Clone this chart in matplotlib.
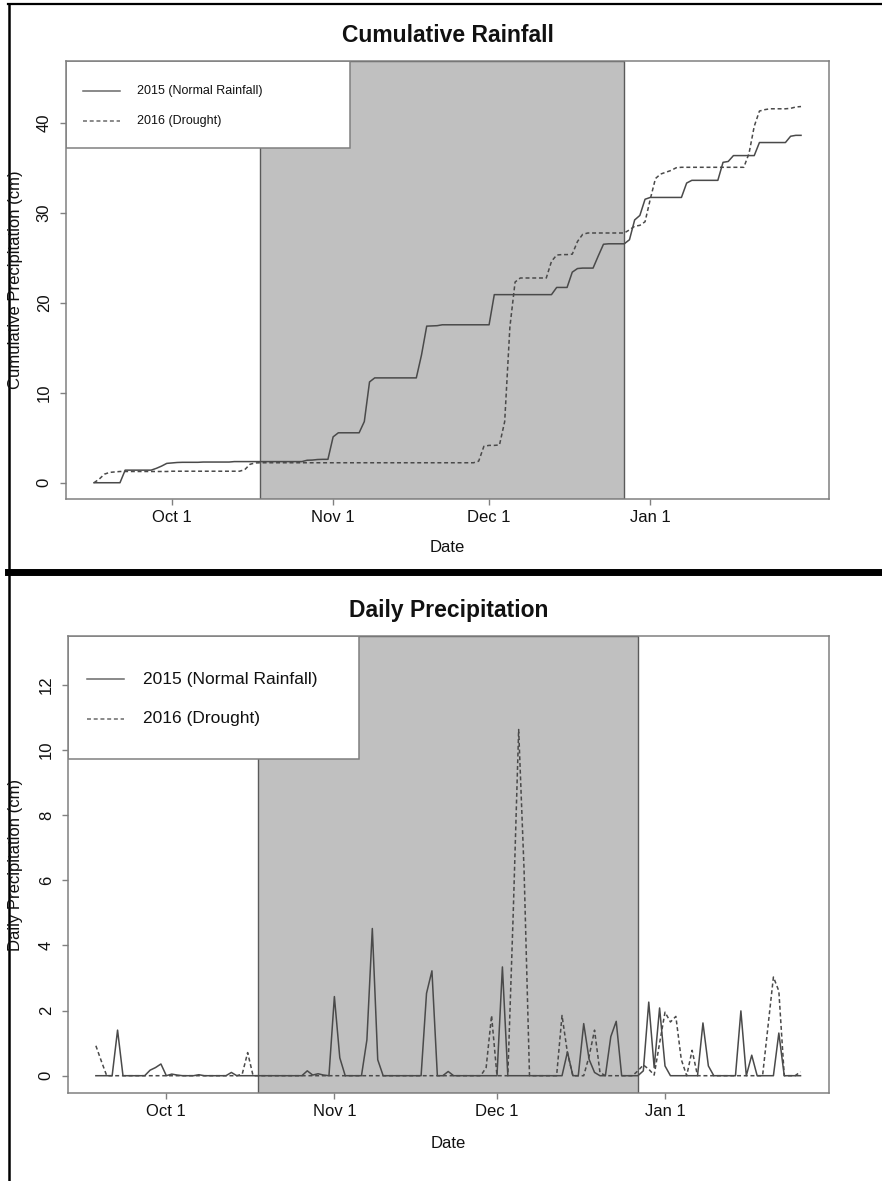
import numpy as np
import pandas as pd
import matplotlib
matplotlib.use("Agg")
import matplotlib.pyplot as plt
import matplotlib.dates as mdates
from matplotlib.patches import Rectangle
from matplotlib.lines import Line2D

plt.rcParams['font.family'] = ['Liberation Sans', 'DejaVu Sans']

# ---------------- data ----------------
series_labels = ["2015 (Normal Rainfall)", "2016 (Drought)"]
month_tick_dates = ["2015-10-01", "2015-11-01", "2015-12-01", "2016-01-01"]
month_tick_labels = ["Oct 1", "Nov 1", "Dec 1", "Jan 1"]
shade_start, shade_end = "2015-10-18", "2015-12-27"

# cumulative rainfall (cm), daily from Sep 16 to Jan 30
cum_start, cum_end = "2015-09-16", "2016-01-30"
cum_2015_sep = [0, 0, 0, 0, 0, 0, 1.4, 1.4, 1.4, 1.4, 1.4, 1.4, 1.6, 1.85, 2.15]
cum_2015_oct = [2.2, 2.25, 2.27, 2.27, 2.27, 2.27, 2.3, 2.3, 2.3, 2.3, 2.3, 2.3,
                2.35, 2.35, 2.35, 2.35, 2.35, 2.35, 2.35, 2.35, 2.35, 2.35, 2.35,
                2.35, 2.35, 2.35, 2.5, 2.52, 2.58, 2.6, 2.6]
cum_2015_nov = [5.1, 5.55, 5.55, 5.55, 5.55, 5.55, 6.8, 11.2, 11.65, 11.65, 11.65,
                11.65, 11.65, 11.65, 11.65, 11.65, 11.65, 14.2, 17.4, 17.42, 17.45,
                17.55, 17.55, 17.55, 17.55, 17.55, 17.55, 17.55, 17.55, 17.55]
cum_2015_dec = [17.55, 20.9, 20.9, 20.9, 20.9, 20.9, 20.9, 20.9, 20.9, 20.9, 20.9,
                20.9, 20.9, 21.7, 21.7, 21.7, 23.4, 23.8, 23.85, 23.85, 23.85, 25.2,
                26.5, 26.55, 26.55, 26.55, 26.55, 27.0, 29.2, 29.7, 31.5]
cum_2015_jan = [31.7, 31.7, 31.7, 31.7, 31.7, 31.7, 31.7, 33.3, 33.6, 33.6, 33.6,
                33.6, 33.6, 33.6, 35.6, 35.7, 36.35, 36.35, 36.35, 36.35, 36.35,
                37.8, 37.8, 37.8, 37.8, 37.8, 37.8, 38.5, 38.6, 38.6]

cum_2016_sep = [0, 0.4, 0.95, 1.15, 1.2, 1.25, 1.25, 1.25, 1.25, 1.25, 1.25, 1.25,
                1.25, 1.25, 1.25]
cum_2016_oct = [1.28] * 14 + [1.45, 2.05, 2.2] + [2.22] * 14
cum_2016_nov = [2.22] * 28 + [2.4, 4.05]
cum_2016_dec = [4.15, 4.15, 4.2, 6.8, 17.3, 22.3, 22.75, 22.75, 22.75, 22.75, 22.75,
                22.75, 24.6, 25.3, 25.35, 25.35, 25.4, 26.8, 27.6, 27.75, 27.75,
                27.75, 27.75, 27.75, 27.75, 27.75, 27.75, 28.1, 28.5, 28.6, 29.0]
cum_2016_jan = [31.5, 33.8, 34.3, 34.5, 34.7, 35.0] + [35.05] * 13 + \
               [36.6, 39.6, 41.3, 41.45, 41.55, 41.55, 41.55, 41.55, 41.6, 41.75, 41.8]

# daily precipitation (cm), daily from Sep 18 to Jan 26
day_start, day_end = "2015-09-18", "2016-01-26"
day_2015_sep = [0, 0, 0, 0, 1.4, 0, 0, 0, 0, 0, 0.17, 0.25, 0.36]
day_2015_oct = [0, 0.05, 0.02, 0, 0, 0, 0.03, 0, 0, 0, 0, 0, 0.1] + [0] * 13 + \
               [0.15, 0.02, 0.06, 0.02, 0]
day_2015_nov = [2.43, 0.55, 0, 0, 0, 0, 1.1, 4.52, 0.49, 0, 0, 0, 0, 0, 0, 0, 0,
                2.53, 3.22, 0, 0, 0.13, 0, 0, 0, 0, 0, 0, 0, 0]
day_2015_dec = [0, 3.34] + [0] * 11 + [0.73, 0, 0, 1.6, 0.5, 0.1, 0, 0, 1.2, 1.67,
                0, 0, 0, 0, 0.15, 2.26, 0.25, 2.08]
day_2015_jan = [0.3, 0, 0, 0, 0, 0, 0, 1.62, 0.3, 0, 0, 0, 0, 0, 1.99, 0, 0.63,
                0, 0, 0, 0, 1.31, 0, 0, 0, 0]

day_2016_sep = [0.92, 0.45] + [0] * 11
day_2016_oct = [0] * 14 + [0.05, 0.71] + [0] * 15
day_2016_nov = [0] * 28 + [0.25, 1.85]
day_2016_dec = [0, 0, 0, 5.0, 10.63, 6.3, 0, 0, 0, 0, 0, 0, 1.85, 0.7, 0, 0, 0,
                0.6, 1.4, 0.1, 0, 0, 0, 0, 0, 0, 0.15, 0.33, 0.2, 0.02, 1.0]
day_2016_jan = [1.95, 1.65, 1.82, 0.5, 0, 0.78, 0] + [0] * 11 + \
               [0, 1.5, 3.03, 2.6, 0, 0, 0, 0.12]

cum_2015 = cum_2015_sep + cum_2015_oct + cum_2015_nov + cum_2015_dec + cum_2015_jan
cum_2016 = cum_2016_sep + cum_2016_oct + cum_2016_nov + cum_2016_dec + cum_2016_jan
day_2015 = day_2015_sep + day_2015_oct + day_2015_nov + day_2015_dec + day_2015_jan
day_2016 = day_2016_sep + day_2016_oct + day_2016_nov + day_2016_dec + day_2016_jan

cum_dates = mdates.date2num(pd.date_range(cum_start, cum_end, freq="D").to_pydatetime())
day_dates = mdates.date2num(pd.date_range(day_start, day_end, freq="D").to_pydatetime())

# ---------------- style ----------------
LINE = "#4a4a4a"
FRAME = "#808080"
SHADE = "#c0c0c0"
SHADE_EDGE = "#5a5a5a"
LW = 1.1
DASH = (0, (2.6, 1.8))

W, H = 882, 1181
fig = plt.figure(figsize=(W / 100, H / 100), dpi=100)


def fx(px):
    return px / W


def fy(py):
    return 1 - py / H


def make_axes(box, dates, ylim, yticks, title, ylabel, title_base, date_base):
    l, t, r, b = box
    ax = fig.add_axes([fx(l), fy(b), fx(r - l), (b - t) / H])
    span = dates[-1] - dates[0]
    ax.set_xlim(dates[0] - 0.04 * span, dates[-1] + 0.04 * span)
    ax.set_ylim(*ylim)
    ax.axvspan(mdates.date2num(pd.Timestamp(shade_start)),
               mdates.date2num(pd.Timestamp(shade_end)),
               facecolor=SHADE, edgecolor=SHADE_EDGE, lw=1.0, zorder=1)
    ax.set_xticks(mdates.date2num([pd.Timestamp(d) for d in month_tick_dates]))
    ax.set_xticklabels(month_tick_labels)
    ax.set_yticks(yticks)
    ax.set_yticklabels([str(v) for v in yticks], rotation=90, va="center")
    ax.tick_params(axis="both", direction="out", length=4.5, width=1.0,
                   color=FRAME, labelsize=12, labelcolor="#111111")
    ax.tick_params(axis="x", pad=3)
    ax.tick_params(axis="y", pad=5.5)
    for s in ax.spines.values():
        s.set_color(FRAME)
        s.set_linewidth(1.1)
        s.set_zorder(6)
    fig.text(fx((l + r) / 2), fy(title_base), title, ha="center", va="baseline",
             fontsize=16.5, fontweight="bold", color="#111111")
    fig.text(fx((l + r) / 2), fy(date_base), "Date", ha="center", va="baseline",
             fontsize=12, color="#111111")
    fig.text(fx(15.5), fy((t + b) / 2), ylabel, ha="center", va="center",
             rotation=90, fontsize=12, color="#111111")
    return ax


def add_legend(ax, w, h, x_line0, x_line1, x_text, rows, fs):
    ax.add_patch(Rectangle((0, 1 - h), w, h, transform=ax.transAxes,
                           facecolor="white", edgecolor=FRAME, lw=1.1, zorder=5))
    styles = ["-", DASH]
    for lab, yy, ls in zip(series_labels, rows, styles):
        ax.add_line(Line2D([x_line0, x_line1], [yy, yy], transform=ax.transAxes,
                           color="#6a6a6a", lw=LW, linestyle=ls, zorder=7))
        ax.text(x_text, yy, lab, transform=ax.transAxes, ha="left", va="center",
                fontsize=fs, color="#111111", zorder=7)


# top panel: cumulative
ax1 = make_axes((65.7, 61, 829.3, 499.3), cum_dates, (-1.84, 46.86),
                [0, 10, 20, 30, 40], "Cumulative Rainfall",
                "Cumulative Precipitation (cm)", 42, 551.7)
ax1.plot(cum_dates, cum_2015, color=LINE, lw=LW, linestyle="-", zorder=3)
ax1.plot(cum_dates, cum_2016, color=LINE, lw=LW, linestyle=DASH, zorder=3)
add_legend(ax1, 0.3723, 0.1978, 0.0227, 0.0711, 0.0934, [0.9316, 0.8631], 9)

# bottom panel: daily
ax2 = make_axes((67.7, 635.7, 828.7, 1093.3), day_dates, (-0.54, 13.51),
                [0, 2, 4, 6, 8, 10, 12], "Daily Precipitation",
                "Daily Precipitation (cm)", 616.7, 1148.3)
ax2.plot(day_dates, day_2015, color=LINE, lw=LW, linestyle="-", zorder=3)
ax2.plot(day_dates, day_2016, color=LINE, lw=LW, linestyle=DASH, zorder=3)
add_legend(ax2, 0.3828, 0.2695, 0.0257, 0.0739, 0.0993, [0.9047, 0.8186], 12.5)

# outer frame lines
fig.add_artist(Line2D([fx(8), fx(882)], [fy(4), fy(4)], color="black", lw=1.6))
fig.add_artist(Line2D([fx(8.5), fx(8.5)], [fy(3.5), 0], color="black", lw=1.8))
fig.add_artist(Line2D([fx(8), fx(882)], [fy(571.5), fy(571.5)], color="black", lw=5.0))

fig.savefig("out.png", dpi=100)
